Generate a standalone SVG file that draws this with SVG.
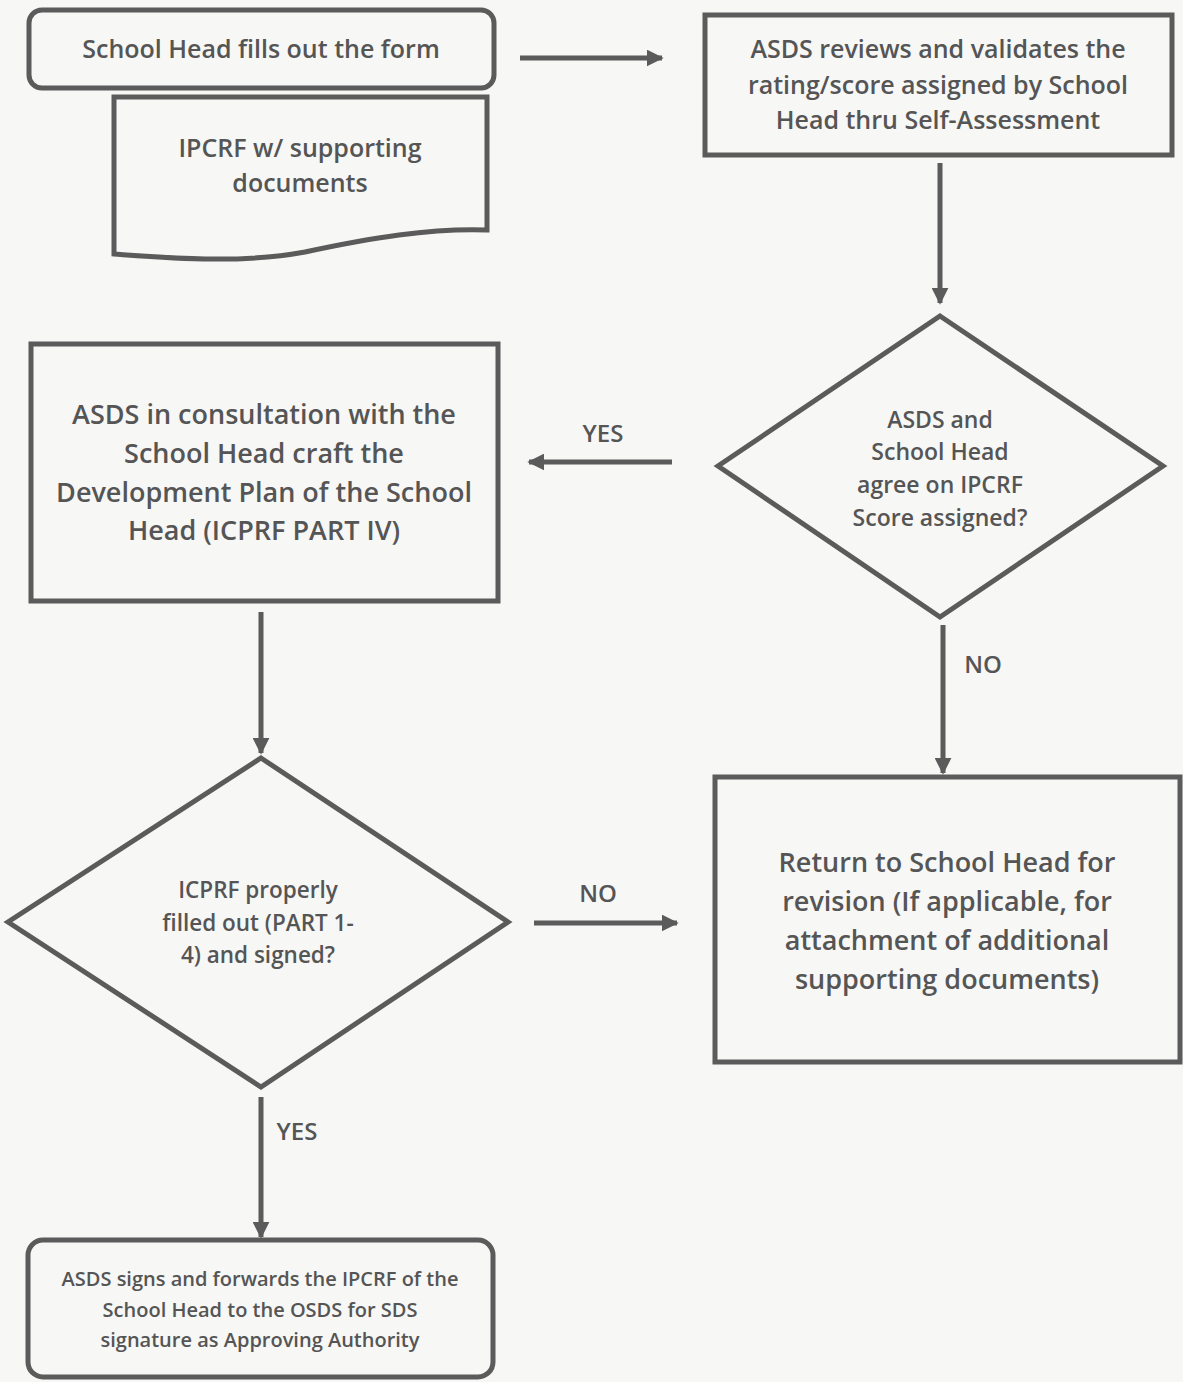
<svg xmlns="http://www.w3.org/2000/svg" width="1183" height="1382" viewBox="0 0 1183 1382">
<style>
.sh{fill:none;stroke:#5b5b5b;stroke-width:5}
.t{font-family:"Open Sans",Lato,"DejaVu Sans",sans-serif;font-weight:600;fill:#555555;text-anchor:middle}
.big{font-size:27px}
.mid{font-size:25px}
.sm{font-size:23px}
.sm2{font-size:22.5px}
.xs{font-size:20px}
.lab{font-size:24px}
.c{stroke:#5b5b5b;stroke-width:5;fill:none}
</style>
<defs>
<marker id="ah" viewBox="0 0 10 10" refX="9" refY="5" markerWidth="3.4" markerHeight="3.4" orient="auto" markerUnits="strokeWidth">
<path d="M0,0 L10,5 L0,10 Z" fill="#5b5b5b"/>
</marker>
</defs>
<rect width="1183" height="1382" fill="#f7f7f6"/>

<g id="n1">
<rect class="sh" x="29" y="10" width="465" height="78" rx="13"/>
<text class="t mid" x="261" y="58">School Head fills out the form</text>
</g>
<g id="n2">
<path class="sh" d="M114,97 H487 V230 C430,228 370,238 305,252 C240,264 170,258 114,254 Z"/>
<text class="t mid" x="300" y="157">IPCRF w/ supporting</text>
<text class="t mid" x="300" y="192">documents</text>
</g>
<g id="n3">
<rect class="sh" x="705" y="15" width="467" height="140"/>
<text class="t mid" x="938" y="58">ASDS reviews and validates the</text>
<text class="t mid" x="938" y="94">rating/score assigned by School</text>
<text class="t mid" x="938" y="129">Head thru Self-Assessment</text>
</g>
<g id="n4">
<polygon class="sh" points="940,316 1163,466 940,617 718,466"/>
<text class="t sm" x="940" y="428">ASDS and</text>
<text class="t sm" x="940" y="460">School Head</text>
<text class="t sm" x="940" y="493">agree on IPCRF</text>
<text class="t sm" x="940" y="526">Score assigned?</text>
</g>
<g id="n5">
<rect class="sh" x="31" y="344" width="467" height="257"/>
<text class="t big" x="264" y="424">ASDS in consultation with the</text>
<text class="t big" x="264" y="463">School Head craft the</text>
<text class="t big" x="264" y="502">Development Plan of the School</text>
<text class="t big" x="264" y="540">Head (ICPRF PART IV)</text>
</g>
<g id="n6">
<rect class="sh" x="715" y="777" width="465" height="285"/>
<text class="t big" x="947" y="872">Return to School Head for</text>
<text class="t big" x="947" y="911">revision (If applicable, for</text>
<text class="t big" x="947" y="950">attachment of additional</text>
<text class="t big" x="947" y="989">supporting documents)</text>
</g>
<g id="n7">
<polygon class="sh" points="261,758 508,922 261,1087 8,922"/>
<text class="t sm2" x="258" y="898">ICPRF properly</text>
<text class="t sm2" x="258" y="931">filled out (PART 1-</text>
<text class="t sm2" x="258" y="963">4) and signed?</text>
</g>
<g id="n8">
<rect class="sh" x="28" y="1240" width="465" height="137" rx="15"/>
<text class="t xs" x="260" y="1286">ASDS signs and forwards the IPCRF of the</text>
<text class="t xs" x="260" y="1317">School Head to the OSDS for SDS</text>
<text class="t xs" x="260" y="1347">signature as Approving Authority</text>
</g>

<g id="connectors">
<line class="c" x1="520" y1="58" x2="662" y2="58" marker-end="url(#ah)"/>
<line class="c" x1="940" y1="163" x2="940" y2="303" marker-end="url(#ah)"/>
<line class="c" x1="672" y1="462" x2="529" y2="462" marker-end="url(#ah)"/>
<line class="c" x1="943" y1="625" x2="943" y2="773" marker-end="url(#ah)"/>
<line class="c" x1="261" y1="612" x2="261" y2="753" marker-end="url(#ah)"/>
<line class="c" x1="534" y1="923" x2="677" y2="923" marker-end="url(#ah)"/>
<line class="c" x1="261" y1="1097" x2="261" y2="1237" marker-end="url(#ah)"/>
<text class="t lab" x="603" y="442">YES</text>
<text class="t lab" x="983" y="673">NO</text>
<text class="t lab" x="598" y="902">NO</text>
<text class="t lab" x="297" y="1140">YES</text>
</g>
</svg>
